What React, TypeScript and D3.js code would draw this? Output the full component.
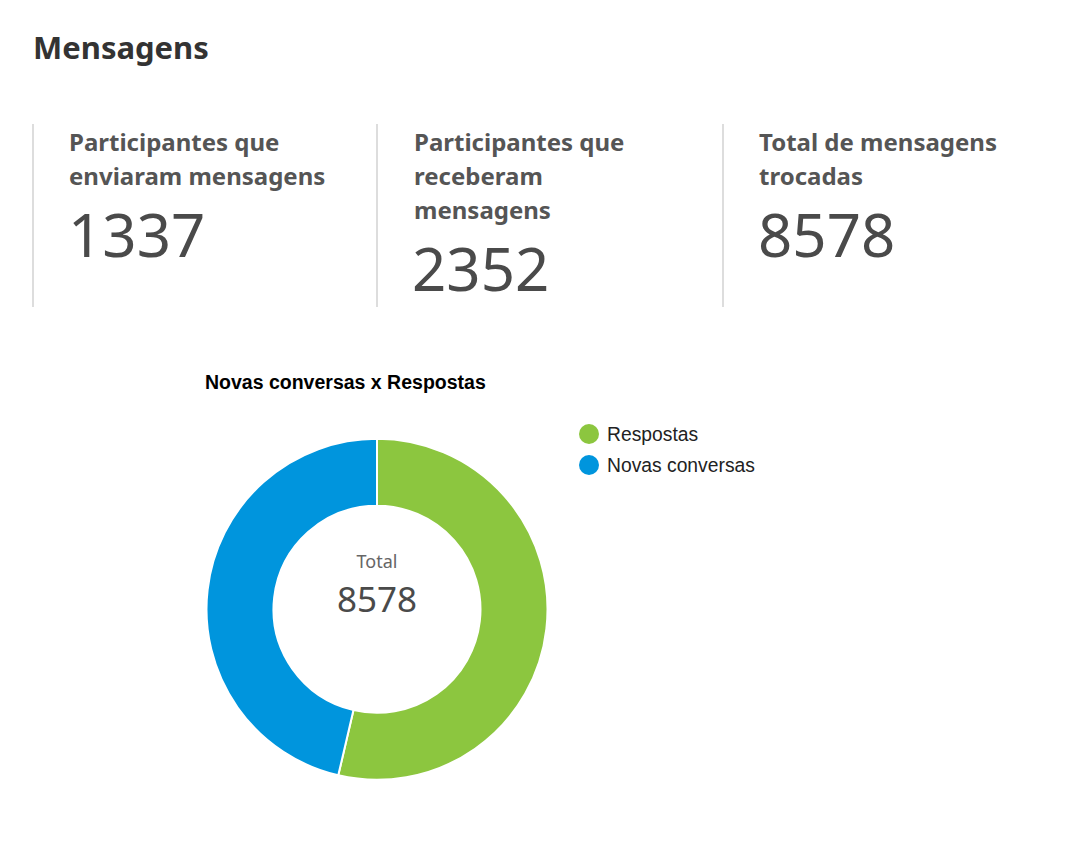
import React, { useEffect, useRef } from 'react'
import * as d3 from 'd3'

const statLabels = [
  ['Participantes que', 'enviaram mensagens'],
  ['Participantes que', 'receberam', 'mensagens'],
  ['Total de mensagens', 'trocadas'],
]
const statValues = [1337, 2352, 8578]

const sliceNames = ['Respostas', 'Novas conversas']
const sliceValues = [4602, 3976]
const sliceColors = ['#8cc63f', '#0095dd']

const App: React.FC = () => {
  const ref = useRef<SVGSVGElement>(null)

  useEffect(() => {
    if (!ref.current) return
    const svg = d3.select(ref.current)
    svg.selectAll('*').remove()

    const sans = "'Noto Sans', 'Open Sans', sans-serif"
    const arial = "'Liberation Sans', Arial, sans-serif"

    svg.append('text')
      .attr('x', 33).attr('y', 59)
      .attr('font-family', sans).attr('font-weight', 700)
      .attr('font-size', 31).attr('fill', '#333')
      .text('Mensagens')

    // stat boxes
    const colX = [33, 377, 723]
    statLabels.forEach((lines, i) => {
      const x0 = colX[i]
      svg.append('line')
        .attr('x1', x0).attr('x2', x0).attr('y1', 124).attr('y2', 307)
        .attr('stroke', '#ddd').attr('stroke-width', 2)
      lines.forEach((l, j) => {
        svg.append('text')
          .attr('x', x0 + 36 + (i === 1 ? 1 : 0)).attr('y', 151 + j * 34)
          .attr('font-family', sans).attr('font-weight', 700)
          .attr('font-size', 24).attr('fill', '#555')
          .text(l)
      })
      svg.append('text')
        .attr('x', x0 + 35).attr('y', 150 + lines.length * 34 + 39)
        .attr('font-family', sans)
        .attr('font-size', 60).attr('fill', '#4a4a4a')
        .text(String(statValues[i]))
    })

    // donut chart
    svg.append('text')
      .attr('x', 205).attr('y', 389)
      .attr('font-family', arial).attr('font-weight', 700)
      .attr('font-size', 19.5).attr('fill', '#000')
      .text('Novas conversas x Respostas')

    const cx = 377, cy = 609.3
    const pie = d3.pie<number>().sort(null).value(d => d)
    const arc = d3.arc<d3.PieArcDatum<number>>().innerRadius(103.5).outerRadius(170.5)
    const g = svg.append('g').attr('transform', `translate(${cx},${cy})`)
    g.selectAll('path')
      .data(pie(sliceValues))
      .enter().append('path')
      .attr('d', arc)
      .attr('fill', (_, i) => sliceColors[i])
      .attr('stroke', '#fff').attr('stroke-width', 2)

    g.append('text')
      .attr('text-anchor', 'middle').attr('y', -41)
      .attr('font-family', sans).attr('font-size', 18).attr('fill', '#666')
      .text('Total')
    g.append('text')
      .attr('text-anchor', 'middle').attr('y', 2.5)
      .attr('font-family', sans).attr('font-size', 35).attr('fill', '#4a4a4a')
      .text(String(d3.sum(sliceValues)))

    // legend
    const legend = svg.append('g').attr('transform', 'translate(589,434)')
    sliceNames.forEach((n, i) => {
      const row = legend.append('g').attr('transform', `translate(0,${i * 31})`)
      row.append('circle').attr('r', 10).attr('fill', sliceColors[i])
      row.append('text')
        .attr('x', 18).attr('y', 6.5)
        .attr('font-family', arial).attr('font-size', 19.3).attr('fill', '#222')
        .text(n)
    })
  }, [])

  return <svg ref={ref} width={1072} height={844} style={{ position: 'absolute', left: 0, top: 0, background: '#fff' }}></svg>
}

export default App
